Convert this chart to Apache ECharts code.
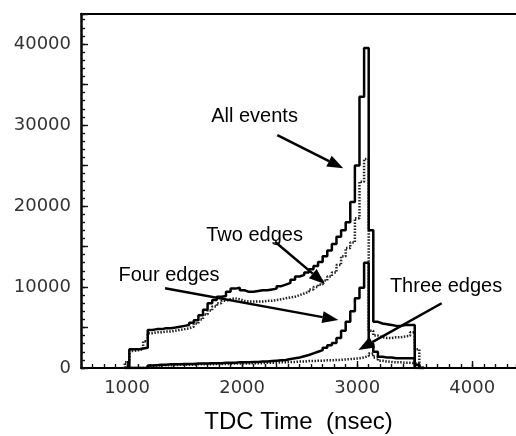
<!DOCTYPE html>
<html>
<head>
<meta charset="utf-8">
<script src="https://cdn.jsdelivr.net/npm/echarts@6/dist/echarts.min.js"></script>
<style>
  html, body { margin: 0; padding: 0; background: #fff; }
  #chart { width: 516px; height: 436px; }
</style>
</head>
<body>
<div id="chart"></div>
<script>
// Left edges of the TDC time bins (nsec), 40 ns wide
const binEdges = [
  980, 1020, 1060, 1100, 1140, 1180, 1220, 1260, 1300, 1340,
  1380, 1420, 1460, 1500, 1540, 1580, 1620, 1660, 1700, 1740,
  1780, 1820, 1860, 1900, 1940, 1980, 2020, 2060, 2100, 2140,
  2180, 2220, 2260, 2300, 2340, 2380, 2420, 2460, 2500, 2540,
  2580, 2620, 2660, 2700, 2740, 2780, 2820, 2860, 2900, 2940,
  2980, 3020, 3060, 3100, 3140, 3180, 3220, 3260, 3300, 3340,
  3380, 3420, 3460, 3500, 3540
];
const binWidth = 40;

// Counts per bin
const allEvents = [
  0, 2300, 2300, 2400, 2500, 4700, 4800, 4800, 4900, 4900,
  5000, 5100, 5200, 5300, 5600, 5900, 6500, 7200, 8000, 8400,
  8800, 8900, 9400, 9800, 9900, 9600, 9400, 9400, 9500, 9600,
  9600, 9700, 9800, 10100, 10300, 10500, 10900, 11300, 11500, 11800,
  12200, 12600, 13100, 13800, 14500, 15300, 16200, 17000, 18000, 20500,
  25000, 33500, 39500, 17000, 5700, 5500, 5400, 5300, 5200, 5200,
  5300, 5300, 5300, 400, 0
];
const twoEdges = [
  700, 2100, 2200, 2300, 3300, 4300, 4400, 4400, 4500, 4500,
  4600, 4700, 4800, 4900, 5100, 5500, 6000, 6600, 7100, 7600,
  8000, 8300, 8500, 8600, 8500, 8300, 8200, 8200, 8200, 8200,
  8300, 8300, 8400, 8500, 8600, 8700, 8800, 9000, 9200, 9400,
  9700, 10000, 10300, 10800, 11300, 11800, 12700, 13800, 14800, 15500,
  18500, 23000, 25800, 4600, 4000, 3800, 3700, 3700, 3800, 3800,
  3900, 4000, 4400, 2300, 0
];
const threeEdges = [
  0, 0, 0, 0, 0, 250, 300, 300, 350, 350,
  350, 400, 400, 400, 400, 450, 450, 450, 450, 500,
  500, 500, 500, 550, 550, 550, 550, 600, 600, 600,
  650, 650, 650, 700, 700, 750, 750, 800, 800, 850,
  850, 900, 900, 950, 950, 1000, 1000, 1050, 1100, 1150,
  1200, 1300, 1500, 1800, 1300, 900, 800, 750, 700, 700,
  650, 650, 600, 500, 0
];
const fourEdges = [
  0, 0, 0, 0, 0, 300, 350, 400, 400, 450,
  450, 450, 500, 500, 500, 550, 550, 550, 600, 600,
  600, 650, 650, 650, 700, 700, 700, 750, 750, 800,
  800, 850, 900, 950, 1000, 1100, 1200, 1300, 1450, 1600,
  1800, 2000, 2200, 2500, 2800, 3100, 3700, 4600, 5700, 7000,
  8600, 9900, 13000, 3000, 2000, 1400, 1300, 1300, 1200, 1200,
  1200, 1200, 1200, 0, 0
];

const xTickLabels = [1000, 2000, 3000, 4000];
const yTickLabels = [0, 10000, 20000, 30000, 40000];
const xTitle = 'TDC Time  (nsec)';

// Callouts: label centre, arrow tail and arrow tip, all in data units
const callouts = [
  { text: 'All events',  label: [2108, 31110], from: [2306, 28760], to: [2879, 24650] },
  { text: 'Two edges',   label: [2108, 16420], from: [2286, 15590], to: [2720, 10370] },
  { text: 'Four edges',  label: [1365, 11480], from: [1330, 9840],  to: [2836, 5925] },
  { text: 'Three edges', label: [3772, 10120], from: [3734, 7990],  to: [3010, 2220] }
];

const X_MIN = 600, X_MAX = 4380, Y_MAX = 43700;
const tickFont = '"DejaVu Sans", sans-serif';
const textFont = '"Liberation Sans", Arial, sans-serif';

// Turn per-bin counts into a closed step outline
function histogram(values) {
  const pts = [[binEdges[0], 0]];
  values.forEach((v, i) => pts.push([binEdges[i], v]));
  pts.push([binEdges[binEdges.length - 1] + binWidth, 0]);
  return pts;
}

// Only the listed values get a tick label
function labelFrom(list) {
  return v => (list.indexOf(Math.round(v)) >= 0 ? String(Math.round(v)) : '');
}

const solid = { color: '#000', width: 2.5, type: 'solid' };
const dotted = { color: '#222', width: 2.5, type: [1.5, 1.5] };

function stepSeries(name, values, lineStyle, z) {
  return {
    name, type: 'line', step: 'end', data: histogram(values),
    symbol: 'none', lineStyle, z, silent: true, animation: false,
    xAxisIndex: 0, yAxisIndex: 0
  };
}

const chart = echarts.init(document.getElementById('chart'), null, { renderer: 'canvas' });

const tickLine = { color: '#111', width: 1.4 };

chart.setOption({
  animation: false,
  backgroundColor: '#fff',
  grid: { left: 81, right: 0, top: 14, bottom: 68, containLabel: false, outerBoundsMode: 'none' },
  xAxis: [
    {
      type: 'value', min: X_MIN, max: X_MAX, interval: 100, position: 'bottom',
      axisLine: { lineStyle: { color: '#000', width: 2 } },
      axisTick: { show: true, inside: true, interval: 0, length: 4, lineStyle: tickLine },
      axisLabel: { interval: 0, hideOverlap: false, formatter: labelFrom(xTickLabels), fontFamily: tickFont, fontSize: 18, color: '#333', margin: 11 },
      splitLine: { show: false },
      name: xTitle, nameLocation: 'middle', nameGap: 42,
      nameTextStyle: { fontFamily: textFont, fontSize: 24, color: '#000' }
    },
    {
      type: 'value', min: X_MIN, max: X_MAX, position: 'bottom',
      axisLine: { show: false },
      axisTick: { show: true, inside: true, length: 7, customValues: xTickLabels, lineStyle: tickLine },
      axisLabel: { show: false }, splitLine: { show: false }
    },
    {
      type: 'value', min: X_MIN, max: X_MAX, position: 'top',
      axisLine: { lineStyle: { color: '#000', width: 2 } },
      axisTick: { show: false }, axisLabel: { show: false }, splitLine: { show: false }
    }
  ],
  yAxis: [
    {
      type: 'value', min: 0, max: Y_MAX, interval: 1000,
      axisLine: { show: true, lineStyle: { color: '#000', width: 2.5 } },
      axisTick: { show: true, inside: true, interval: 0, length: 4, lineStyle: tickLine },
      axisLabel: { interval: 0, hideOverlap: false, formatter: labelFrom(yTickLabels), fontFamily: tickFont, fontSize: 18, color: '#333', margin: 10 },
      splitLine: { show: false }
    },
    {
      type: 'value', min: 0, max: Y_MAX, interval: 5000, position: 'left',
      axisLine: { show: false },
      axisTick: { show: true, inside: true, interval: 0, length: 7, lineStyle: tickLine },
      axisLabel: { show: false }, splitLine: { show: false }
    }
  ],
  series: [
    stepSeries('Three edges', threeEdges, dotted, 2),
    stepSeries('Two edges', twoEdges, dotted, 3),
    stepSeries('Four edges', fourEdges, solid, 4),
    stepSeries('All events', allEvents, solid, 5)
  ]
});

// Callout labels and arrows, positioned through the axes
function drawCallouts() {
  const elements = [];
  const headLen = 16, headHalf = 6;
  callouts.forEach(c => {
    const lp = chart.convertToPixel({ gridIndex: 0 }, c.label);
    const p0 = chart.convertToPixel({ gridIndex: 0 }, c.from);
    const p1 = chart.convertToPixel({ gridIndex: 0 }, c.to);
    const dx = p1[0] - p0[0], dy = p1[1] - p0[1];
    const len = Math.hypot(dx, dy);
    const ux = dx / len, uy = dy / len;
    const bx = p1[0] - ux * headLen, by = p1[1] - uy * headLen;
    elements.push({
      type: 'text', z: 20, silent: true,
      style: { text: c.text, x: lp[0], y: lp[1], font: '20px ' + textFont, fill: '#000', align: 'center', verticalAlign: 'middle' }
    });
    elements.push({
      type: 'line', z: 20, silent: true,
      shape: { x1: p0[0], y1: p0[1], x2: bx, y2: by },
      style: { stroke: '#000', lineWidth: 2.5 }
    });
    elements.push({
      type: 'polygon', z: 20, silent: true,
      shape: { points: [[p1[0], p1[1]], [bx - uy * headHalf, by + ux * headHalf], [bx + uy * headHalf, by - ux * headHalf]] },
      style: { fill: '#000' }
    });
  });
  chart.setOption({ graphic: elements });
}
drawCallouts();
</script>
</body>
</html>
